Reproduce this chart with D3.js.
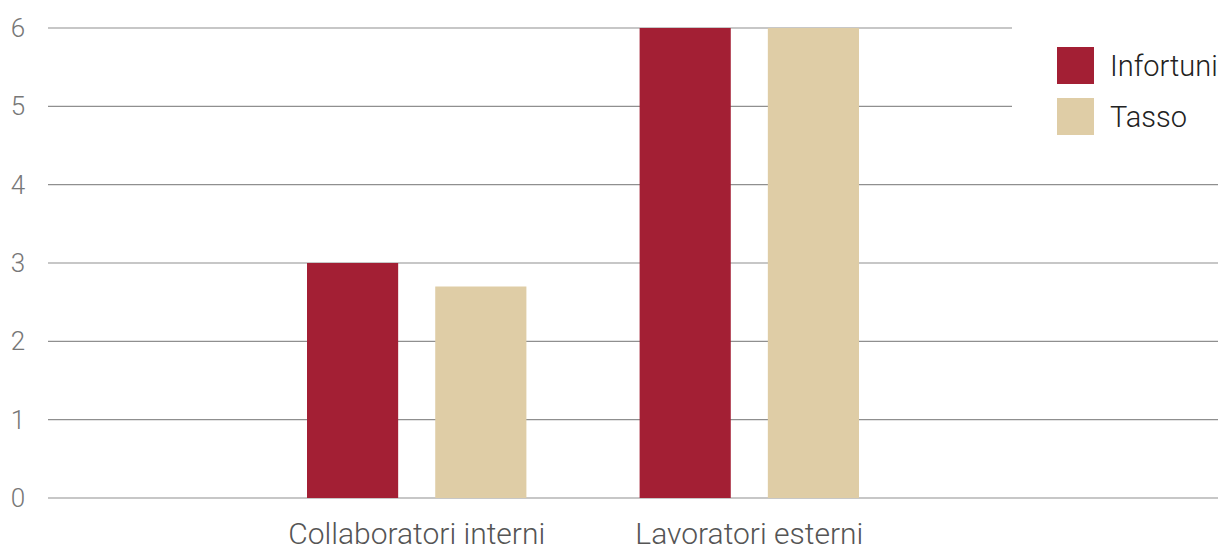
<!DOCTYPE html>
<html lang="en">
<head>
  <meta charset="UTF-8" />
  <title>Infortuni</title>
  <script src="https://d3js.org/d3.v7.min.js"></script>
  <style>
    body { margin: 0; background: #fff; }
    text { font-family: Roboto, sans-serif; font-weight: 300; }
  </style>
</head>
<body>
  <div id="chart"></div>
  <script>
    const categories = ["Collaboratori interni", "Lavoratori esterni"];
    const seriesNames = ["Infortuni", "Tasso"];
    const infortuni = [3, 6];
    const tasso = [2.7, 6];
    const yTicks = [0, 1, 2, 3, 4, 5, 6];
    const colors = ["#a31f34", "#dfcda6"];

    const W = 1221, H = 552;
    const svg = d3.select("#chart").append("svg")
      .attr("width", W).attr("height", H);

    const y = d3.scaleLinear().domain([0, 6]).range([498, 28]);

    const x = d3.scaleBand().domain(categories)
      .range([307, 859]).paddingInner(113 / 332).paddingOuter(0);
    const xs = d3.scaleBand().domain(seriesNames)
      .range([0, x.bandwidth()]).paddingInner(37 / 128);

    // gridlines
    svg.append("g").selectAll("line").data(yTicks).join("line")
      .attr("x1", 48).attr("x2", 1218)
      .attr("y1", d => y(d)).attr("y2", d => y(d))
      .attr("stroke", "#8f8f8f").attr("stroke-width", 1.2);

    // y tick labels
    svg.append("g").selectAll("text").data(yTicks).join("text")
      .attr("x", 18).attr("y", d => y(d) + 9)
      .attr("text-anchor", "middle")
      .attr("fill", "#777").style("font-size", "26px")
      .text(d => d);

    const rows = categories.map((c, i) => ({ cat: c, vals: [infortuni[i], tasso[i]] }));

    const groups = svg.append("g").selectAll("g").data(rows).join("g")
      .attr("transform", d => `translate(${x(d.cat)},0)`);
    groups.selectAll("rect")
      .data(d => d.vals.map((v, j) => ({ name: seriesNames[j], v, j })))
      .join("rect")
      .attr("x", d => xs(d.name))
      .attr("y", d => y(d.v))
      .attr("width", xs.bandwidth())
      .attr("height", d => y(0) - y(d.v))
      .attr("fill", d => colors[d.j]);

    // category labels
    svg.append("g").selectAll("text").data(categories).join("text")
      .attr("x", d => x(d) + x.bandwidth() / 2)
      .attr("y", 544)
      .attr("text-anchor", "middle")
      .attr("fill", "#555").style("font-size", "30px")
      .text(d => d);

    // legend
    const legend = svg.append("g");
    legend.append("rect").attr("x", 1012).attr("y", 0).attr("width", 209).attr("height", 150).attr("fill", "#fff");
    const li = legend.selectAll("g").data(seriesNames).join("g")
      .attr("transform", (d, i) => `translate(1057,${47 + i * 51})`);
    li.append("rect").attr("width", 37).attr("height", 37).attr("fill", (d, i) => colors[i]);
    li.append("text").attr("x", 53).attr("y", 29)
      .attr("fill", "#222").style("font-size", "29px")
      .text(d => d);
  </script>
</body>
</html>
